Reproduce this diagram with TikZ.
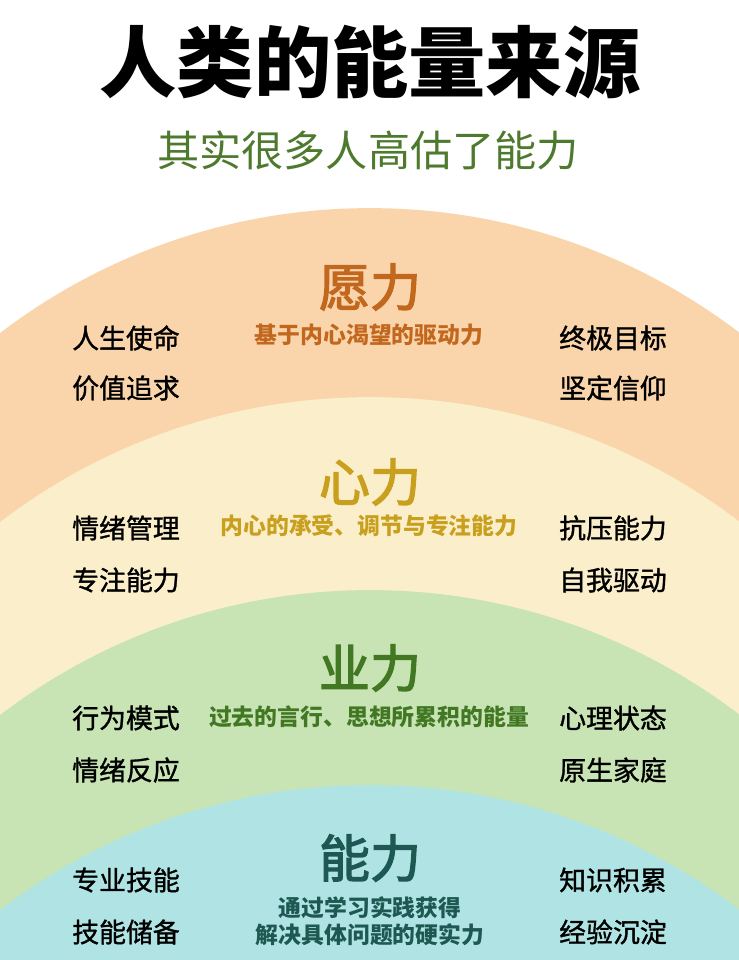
\documentclass[tikz,border=0pt]{standalone}
\usepackage{fontspec}
\usepackage{tikz}
\usetikzlibrary{positioning}
\newfontfamily\cjk{Noto Sans CJK SC}
\newfontfamily\cjkmed[FakeBold=1.2]{Noto Sans CJK SC}
\newfontfamily\cjkheavy[FakeBold=2.5]{Noto Sans CJK SC}
\definecolor{wishbg}{RGB}{250,213,172}
\definecolor{heartbg}{RGB}{251,238,203}
\definecolor{karmabg}{RGB}{200,227,180}
\definecolor{skillbg}{RGB}{176,228,228}
\definecolor{wishtxt}{RGB}{194,104,30}
\definecolor{hearttxt}{RGB}{200,160,30}
\definecolor{karmatxt}{RGB}{66,120,36}
\definecolor{skilltxt}{RGB}{30,88,82}
\definecolor{subgreen}{RGB}{78,122,46}

\begin{document}
\begin{tikzpicture}[
  x=0.02cm, y=-0.02cm,
  layer/.style={font=\cjkheavy\fontsize{29}{32}\selectfont, inner sep=0pt},
  desc/.style={font=\cjk\bfseries\fontsize{13}{15.5}\selectfont, inner sep=0pt, align=center},
  side/.style={font=\cjkmed\fontsize{15.3}{18}\selectfont, inner sep=0pt, text=black}
]
  \useasboundingbox (0,0) rectangle (739,960);
  \fill[white] (0,0) rectangle (739,960);

  % the four arcs
  \begin{scope}
    \clip (0,0) rectangle (739,960);
    \fill[wishbg]  (370,818)  circle[radius=12.2cm];
    \fill[heartbg] (370,1007) circle[radius=12.2cm];
    \fill[karmabg] (370,1200) circle[radius=12.2cm];
    \fill[skillbg] (370,1395) circle[radius=12.2cm];
  \end{scope}

  % heading
  \node[font=\cjk\bfseries\fontsize{44}{48}\selectfont, inner sep=0pt] (title) at (370,62) {人类的能量来源};
  \node[font=\cjk\fontsize{24}{28}\selectfont, text=subgreen, inner sep=0pt] (subtitle) at (368,150) {其实很多人高估了能力};

  % layers
  \node[layer, text=wishtxt]  (wish)  at (370,287) {愿力};
  \node[desc, text=wishtxt]   (wishdesc)  at (369,335) {基于内心渴望的驱动力};
  \node[layer, text=hearttxt] (heart) at (370,482) {心力};
  \node[desc, text=hearttxt]  (heartdesc) at (369,526) {内心的承受、调节与专注能力};
  \node[layer, text=karmatxt] (karma) at (370,668) {业力};
  \node[desc, text=karmatxt]  (karmadesc) at (369,717) {过去的言行、思想所累积的能量};
  \node[layer, text=skilltxt] (skill) at (370,858) {能力};
  \node[desc, text=skilltxt]  (skilldesc) at (370,921) {通过学习实践获得\\解决具体问题的硬实力};

  % side keywords
  \foreach \n/\y/\t in {wl1/338/人生使命, wl2/388/价值追求, hl1/528/情绪管理, hl2/580/专注能力,
                        kl1/718/行为模式, kl2/770/情绪反应, sl1/880/专业技能, sl2/932/技能储备}
    \node[side] (\n) at (126,\y) {\t};
  \foreach \n/\y/\t in {wr1/338/终极目标, wr2/388/坚定信仰, hr1/528/抗压能力, hr2/580/自我驱动,
                        kr1/718/心理状态, kr2/770/原生家庭, sr1/880/知识积累, sr2/932/经验沉淀}
    \node[side] (\n) at (613,\y) {\t};
\end{tikzpicture}
\end{document}
